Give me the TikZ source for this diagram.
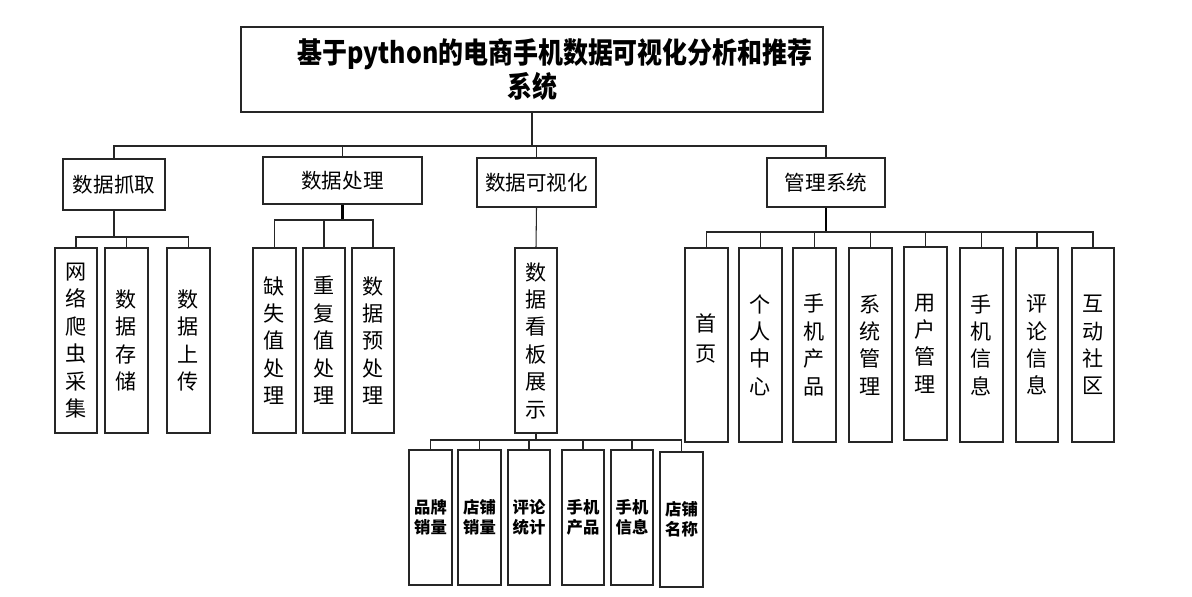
\documentclass[tikz,border=0pt]{standalone}
\usepackage{fontspec}
\usepackage{graphicx}
\newfontfamily\cjk{Noto Sans CJK SC}
\newcommand\pbox[7][]{\node[box,#1,minimum width={(#5-#3)*0.02cm},minimum height={(#6-#4)*0.02cm}] (#2) at ({(#3+#5)/2},{(#4+#6)/2}) {#7};}
\begin{document}
\begin{tikzpicture}[x=0.02cm,y=-0.02cm,
  box/.style={draw=black!85,line width=0.6pt,inner sep=0pt,align=center},
  title/.style={font=\cjk\bfseries\fontsize{16.5pt}{19.8pt}\selectfont},
  lvltwo/.style={font=\cjk\fontsize{11.7pt}{14pt}\selectfont},
  leaf/.style={font=\cjk\fontsize{12pt}{15.6pt}\selectfont},
  sleaf/.style={font=\cjk\bfseries\fontsize{9.3pt}{11.4pt}\selectfont},
  conn/.style={draw=black!85,line width=0.6pt},
  stem/.style={draw=black,line width=1.2pt}]
\useasboundingbox[fill=white] (0,0) rectangle (1192,597);
% title
\pbox[title]{T}{241}{27}{823}{112}{\hspace*{0.92cm}\scalebox{0.86}[1]{基于python的电商手机数据可视化分析和推荐}\\\scalebox{0.86}[1]{系统}}
% level 2
\pbox[lvltwo]{c1}{63}{159}{165}{210}{数据抓取}
\pbox[lvltwo]{c2}{263}{157}{422}{204}{数据处理}
\pbox[lvltwo]{c3}{477}{158}{596}{207}{数据可视化}
\pbox[lvltwo]{c4}{767}{158}{885}{207}{管理系统}
% leaves of c1
\pbox[leaf]{l11}{55}{248}{97}{433}{网\\络\\爬\\虫\\采\\集}
\pbox[leaf]{l12}{105}{248}{148}{433}{数\\据\\存\\储}
\pbox[leaf]{l13}{167}{248}{210}{433}{数\\据\\上\\传}
% leaves of c2
\pbox[leaf]{l21}{253}{248}{296}{433}{缺\\失\\值\\处\\理}
\pbox[leaf]{l22}{303}{248}{345}{433}{重\\复\\值\\处\\理}
\pbox[leaf]{l23}{352}{248}{394}{433}{数\\据\\预\\处\\理}
% c3
\pbox[leaf]{v}{515}{248}{557}{433}{数\\据\\看\\板\\展\\示}
\pbox[sleaf]{b1}{409}{450}{452}{585}{品牌\\销量}
\pbox[sleaf]{b2}{458}{450}{501}{585}{店铺\\销量}
\pbox[sleaf]{b3}{508}{450}{550}{585}{评论\\统计}
\pbox[sleaf]{b4}{562}{450}{604}{585}{手机\\产品}
\pbox[sleaf]{b5}{611}{450}{653}{585}{手机\\信息}
\pbox[sleaf]{b6}{660}{452}{703}{587}{店铺\\名称}
% leaves of c4
\pbox[leaf]{l41}{685}{248}{728}{442}{\raisebox{0.3cm}{\shortstack{首\\[0.13cm]页}}}
\pbox[leaf]{l42}{739}{248}{782}{442}{个\\人\\中\\心}
\pbox[leaf]{l43}{793}{248}{836}{442}{手\\机\\产\\品}
\pbox[leaf]{l44}{849}{248}{892}{442}{系\\统\\管\\理}
\pbox[leaf]{l45}{904}{247}{947}{440}{用\\户\\管\\理}
\pbox[leaf]{l46}{960}{248}{1003}{442}{手\\机\\信\\息}
\pbox[leaf]{l47}{1016}{248}{1058}{442}{评\\论\\信\\息}
\pbox[leaf]{l48}{1072}{248}{1114}{442}{互\\动\\社\\区}
% main bus
\coordinate (bus) at (529,146);
\draw[conn] (T.south) -- (T.south |- bus);
\draw[conn] (c1.north) |- (bus);
\draw[conn] (c4.north) |- (bus);
\draw[conn] (c2.north) -- (c2.north |- bus);
\draw[conn] (c3.north) -- (c3.north |- bus);
% sub-tree c1
\coordinate (s1) at (c1.south |- 0,237);
\draw[conn] (c1.south) -- (s1);
\draw[conn] (l11.north) |- (s1);
\draw[conn] (l13.north) |- (s1);
\draw[conn] (l12.north) -- (l12.north |- s1);
% sub-tree c2
\coordinate (s2) at (c2.south |- 0,220);
\draw[stem] (c2.south) -- (s2);
\draw[conn] (l21.north) |- (s2);
\draw[conn] (l23.north) |- (s2);
\draw[conn] (l22.north) -- (l22.north |- s2);
% sub-tree c3
\draw[conn] (c3.south) -- (v.north);
\coordinate (s3) at (v.south |- 0,440);
\draw[conn] (v.south) -- (s3);
\draw[conn] (b1.north) |- (s3);
\draw[conn] (b6.north) |- (s3);
\foreach \n in {b2,b3,b4,b5}{\draw[conn] (\n.north) -- (\n.north |- s3);}
% sub-tree c4
\coordinate (s4) at (c4.south |- 0,232);
\draw[stem] (c4.south) -- (s4);
\draw[conn] (l41.north) |- (s4);
\draw[conn] (l48.north) |- (s4);
\foreach \n in {l42,l43,l44,l45,l46,l47}{\draw[conn] (\n.north) -- (\n.north |- s4);}
\end{tikzpicture}
\end{document}
